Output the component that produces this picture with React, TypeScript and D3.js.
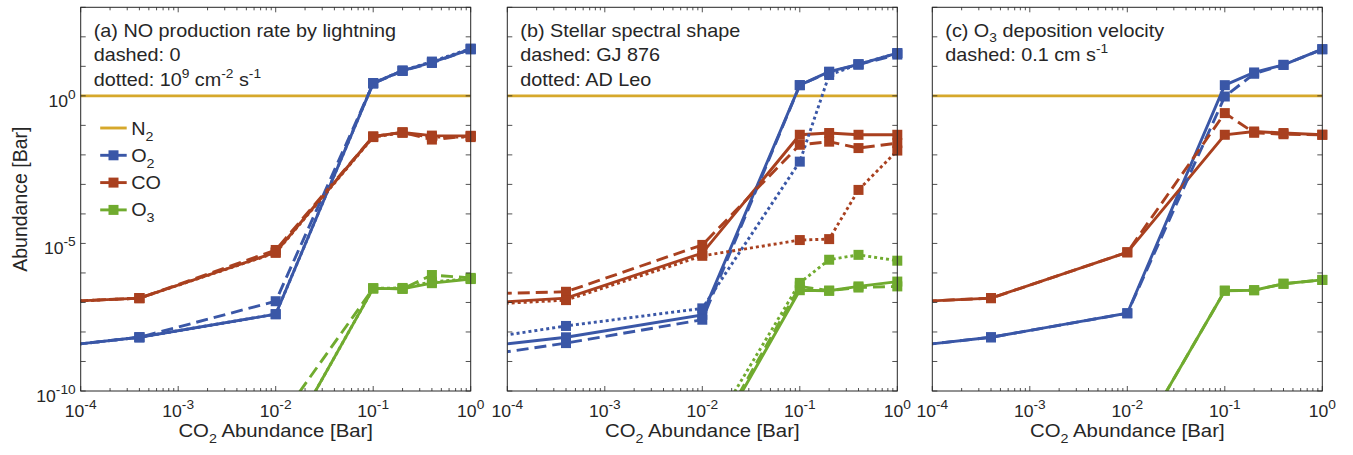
import * as d3 from "d3";

// CO2 surface abundance [bar]; first point lies left of the axis window
const co2 = [1e-5, 4e-4, 1e-2, 0.1, 0.2, 0.4, 1];

// (a) NO production rate by lightning
const aN2 = [1, 1, 1, 1, 1, 1, 1];
const aO2 = [1.7e-9, 6.6e-9, 4.0e-8, 2.7, 7.1, 13.5, 38];
const aO2dash = [1.7e-9, 6.6e-9, 1.1e-7, 2.6, 7.0, 13, 38];
const aO2dot = [1.7e-9, 6.6e-9, 4.0e-8, 2.7, 7.2, 14.5, 40];
const aCO = [8e-8, 1.4e-7, 5.0e-6, 0.042, 0.058, 0.045, 0.044];
const aCOdash = [8e-8, 1.4e-7, 6.0e-6, 0.042, 0.058, 0.033, 0.044];
const aCOdot = [8e-8, 1.4e-7, 4.8e-6, 0.04, 0.056, 0.04, 0.04];
const aO3 = [1e-15, 1e-14, 4e-13, 3.0e-7, 2.9e-7, 4.5e-7, 6.2e-7];
const aO3dash = [1e-15, 1e-14, 6.8e-12, 3.0e-7, 2.9e-7, 8.5e-7, 6.8e-7];
const aO3dot = [1e-15, 1e-14, 4e-13, 3.0e-7, 3.1e-7, 5.0e-7, 6.4e-7];

// (b) Stellar spectral shape
const bN2 = [1, 1, 1, 1, 1, 1, 1];
const bO2 = [1.7e-9, 6.6e-9, 3.8e-8, 2.3, 6.6, 11.7, 28];
const bO2dash = [7e-10, 4.2e-9, 2.6e-8, 2.3, 6.4, 11.5, 25];
const bO2dot = [2.5e-9, 1.6e-8, 6.3e-8, 5.9e-3, 5.1, 11.7, 28];
const bCO = [6.8e-8, 1.4e-7, 4.7e-6, 0.048, 0.055, 0.048, 0.048];
const bCOdash = [1.7e-7, 2.3e-7, 8.9e-6, 0.022, 0.028, 0.017, 0.025];
const bCOdot = [6.3e-8, 1.2e-7, 3.8e-6, 1.3e-5, 1.4e-5, 6.5e-4, 0.014];
const bO3 = [1e-15, 1e-14, 4e-13, 2.6e-7, 2.5e-7, 3.5e-7, 5.1e-7];
const bO3dash = [1e-15, 1e-14, 5e-13, 3.5e-7, 2.5e-7, 3.2e-7, 3.5e-7];
const bO3dot = [1e-15, 1e-14, 1.4e-12, 4.6e-7, 2.8e-6, 4.1e-6, 2.6e-6];

// (c) O3 deposition velocity
const cN2 = [1, 1, 1, 1, 1, 1, 1];
const cO2 = [1.7e-9, 6.6e-9, 4.3e-8, 2.3, 6.2, 11.2, 38];
const cO2dash = [1.7e-9, 6.6e-9, 4.3e-8, 0.95, 5.6, 11.2, 38];
const cCO = [8e-8, 1.4e-7, 5.0e-6, 0.048, 0.062, 0.055, 0.048];
const cCOdash = [8e-8, 1.4e-7, 5.0e-6, 0.26, 0.056, 0.05, 0.048];
const cO3 = [1e-15, 1e-14, 5e-13, 2.5e-7, 2.6e-7, 4.3e-7, 5.8e-7];
const cO3dash = [1e-15, 1e-14, 5e-13, 2.5e-7, 2.6e-7, 4.3e-7, 5.8e-7];

const species = ["N2", "O2", "CO", "O3"];
const colors: Record<string, string> = {
  N2: "#D6A82B",
  O2: "#3A57A7",
  CO: "#A9401F",
  O3: "#70AB2F",
};
const dashes: Record<string, string | undefined> = {
  solid: undefined,
  dashed: "12 6",
  dotted: "3 3",
};

type Series = { sp: string; style: string; values: number[] };

const panels: { titles: string[][]; series: Series[] }[] = [
  {
    titles: [
      ["(a) NO production rate by lightning"],
      ["dashed: 0"],
      ["dotted: 10", "^9", " cm", "^-2", " s", "^-1"],
    ],
    series: [
      { sp: "N2", style: "solid", values: aN2 },
      { sp: "O2", style: "solid", values: aO2 },
      { sp: "CO", style: "solid", values: aCO },
      { sp: "O3", style: "solid", values: aO3 },
      { sp: "O2", style: "dashed", values: aO2dash },
      { sp: "CO", style: "dashed", values: aCOdash },
      { sp: "O3", style: "dashed", values: aO3dash },
      { sp: "O2", style: "dotted", values: aO2dot },
      { sp: "CO", style: "dotted", values: aCOdot },
      { sp: "O3", style: "dotted", values: aO3dot },
    ],
  },
  {
    titles: [["(b) Stellar spectral shape"], ["dashed: GJ 876"], ["dotted: AD Leo"]],
    series: [
      { sp: "N2", style: "solid", values: bN2 },
      { sp: "O2", style: "solid", values: bO2 },
      { sp: "CO", style: "solid", values: bCO },
      { sp: "O3", style: "solid", values: bO3 },
      { sp: "O2", style: "dashed", values: bO2dash },
      { sp: "CO", style: "dashed", values: bCOdash },
      { sp: "O3", style: "dashed", values: bO3dash },
      { sp: "O2", style: "dotted", values: bO2dot },
      { sp: "CO", style: "dotted", values: bCOdot },
      { sp: "O3", style: "dotted", values: bO3dot },
    ],
  },
  {
    titles: [["(c) O", "_3", " deposition velocity"], ["dashed: 0.1 cm s", "^-1"]],
    series: [
      { sp: "N2", style: "solid", values: cN2 },
      { sp: "O2", style: "solid", values: cO2 },
      { sp: "CO", style: "solid", values: cCO },
      { sp: "O3", style: "solid", values: cO3 },
      { sp: "O2", style: "dashed", values: cO2dash },
      { sp: "CO", style: "dashed", values: cCOdash },
      { sp: "O3", style: "dashed", values: cO3dash },
    ],
  },
];

const W = 1353;
const H = 455;
const lefts = [80.7, 507.3, 932.3];
const top = 7.3;
const pw = 390;
const ph = 383.7;
const textColor = "#262626";
const font = "'Liberation Sans', Arial, Helvetica, sans-serif";
const stretch = 1.1; // the source figure is a little wider than tall
const lw = 2.9;
const ms = 10;

// renders "10", "^9" (superscript), "_3" (subscript) chunks
function Rich({ parts, small, up = 8, down = 5 }: { parts: string[]; small: number; up?: number; down?: number }) {
  let shift = 0;
  return (
    <>
      {parts.map((p, i) => {
        let dy = 0;
        let size: number | undefined;
        let txt = p;
        if (p.startsWith("^")) {
          dy = -up - shift;
          shift = -up;
          size = small;
          txt = p.slice(1);
        } else if (p.startsWith("_")) {
          dy = down - shift;
          shift = down;
          size = small;
          txt = p.slice(1);
        } else {
          dy = -shift;
          shift = 0;
        }
        return (
          <tspan key={i} dy={dy} fontSize={size}>
            {txt}
          </tspan>
        );
      })}
    </>
  );
}

function Panel({ idx }: { idx: number }) {
  const p = panels[idx];
  const x = d3.scaleLog().domain([1e-4, 1]).range([0, pw]);
  const y = d3.scaleLog().domain([1e-10, 1e3]).range([ph, 0]);
  const line = d3
    .line<number>()
    .x((_, i) => x(co2[i]))
    .y((d) => y(d));

  const xMajor = [1e-4, 1e-3, 1e-2, 1e-1, 1];
  const xMinor = x.ticks().filter((t) => !xMajor.some((m) => Math.abs(m - t) / m < 1e-6));
  const yMajor = d3.range(-10, 4).map((e) => Math.pow(10, e));
  const clipId = `clip${idx}`;

  return (
    <g transform={`translate(${lefts[idx]},${top})`}>
      <defs>
        <clipPath id={clipId}>
          <rect x={0} y={0} width={pw} height={ph} />
        </clipPath>
      </defs>
      <rect width={pw} height={ph} fill="white" />

      {/* series */}
      <g clipPath={`url(#${clipId})`}>
        {p.series.map((s, i) => (
          <path
            key={i}
            d={line(s.values) || ""}
            fill="none"
            stroke={colors[s.sp]}
            strokeWidth={lw}
            strokeDasharray={dashes[s.style]}
          />
        ))}
      </g>
      {p.series
        .filter((s) => s.sp !== "N2")
        .map((s, i) => (
          <g key={i} fill={colors[s.sp]}>
            {s.values.map((v, j) =>
              co2[j] >= 1e-4 && v >= 1e-10 ? (
                <rect key={j} x={x(co2[j]) - ms / 2} y={y(v) - ms / 2} width={ms} height={ms} />
              ) : null
            )}
          </g>
        ))}

      {/* frame + ticks */}
      <rect width={pw} height={ph} fill="none" stroke={textColor} strokeWidth={1} />
      {xMajor.map((t) => (
        <g key={`xM${t}`} stroke={textColor} strokeWidth={0.8}>
          <line x1={x(t)} x2={x(t)} y1={ph} y2={ph - 5} />
          <line x1={x(t)} x2={x(t)} y1={0} y2={5} />
        </g>
      ))}
      {xMinor.map((t) => (
        <g key={`xm${t}`} stroke={textColor} strokeWidth={0.8}>
          <line x1={x(t)} x2={x(t)} y1={ph} y2={ph - 3} />
          <line x1={x(t)} x2={x(t)} y1={0} y2={3} />
        </g>
      ))}
      {yMajor.map((t) => (
        <g key={`y${t}`} stroke={textColor} strokeWidth={0.8}>
          <line x1={0} x2={5} y1={y(t)} y2={y(t)} />
          <line x1={pw} x2={pw - 5} y1={y(t)} y2={y(t)} />
        </g>
      ))}

      {/* x tick labels */}
      {xMajor.map((t) => (
        <text
          key={`xl${t}`}
          transform={`translate(${x(t)},${ph + 25.5}) scale(${stretch},1)`}
          textAnchor="middle"
          fontSize={16}
          fill={textColor}
        >
          <Rich parts={["10", "^" + Math.round(Math.log10(t))]} small={12.5} />
        </text>
      ))}

      {/* y tick labels only on first panel */}
      {idx === 0 &&
        [1, 1e-5, 1e-10].map((t) => (
          <text
            key={`yl${t}`}
            transform={`translate(-5,${y(t) + 11}) scale(${stretch},1)`}
            textAnchor="end"
            fontSize={16}
            fill={textColor}
          >
            <Rich parts={["10", "^" + Math.round(Math.log10(t))]} small={12.5} />
          </text>
        ))}

      {/* panel annotation */}
      {p.titles.map((parts, i) => (
        <text
          key={`t${i}`}
          transform={`translate(13,${29.7 + i * 24.3}) scale(${stretch},1)`}
          fontSize={18}
          fill={textColor}
        >
          <Rich parts={parts} small={12.5} />
        </text>
      ))}

      {/* x axis label */}
      <text
        transform={`translate(${pw / 2},${ph + 45.5}) scale(${stretch},1)`}
        textAnchor="middle"
        fontSize={18.5}
        fill={textColor}
      >
        <Rich parts={["CO", "_2", " Abundance [Bar]"]} small={13} down={6} />
      </text>

      {/* legend in first panel */}
      {idx === 0 &&
        species.map((sp, i) => (
          <g key={sp} transform={`translate(19.5,${128 + i * 27.3 - top})`}>
            <line x1={0} x2={26.5} y1={0} y2={0} stroke={colors[sp]} strokeWidth={lw} />
            {sp !== "N2" && <rect x={8.3} y={-ms / 2} width={ms} height={ms} fill={colors[sp]} />}
            <text transform={`translate(31,6.5) scale(${stretch},1)`} fontSize={18} fill={textColor}>
              <Rich
                parts={sp === "CO" ? ["CO"] : [sp[0], "_" + sp[1]]}
                small={13}
                down={6}
              />
            </text>
          </g>
        ))}
    </g>
  );
}

export default function App() {
  return (
    <svg
      width={W}
      height={H}
      style={{ position: "absolute", left: 0, top: 0, background: "white" }}
      fontFamily={font}
    >
      <rect width={W} height={H} fill="white" />
      <text
        transform={`translate(27,${top + ph / 2}) rotate(-90)`}
        textAnchor="middle"
        fontSize={19.5}
        fill={textColor}
      >
        Abundance [Bar]
      </text>
      {panels.map((_, i) => (
        <Panel key={i} idx={i} />
      ))}
    </svg>
  );
}
